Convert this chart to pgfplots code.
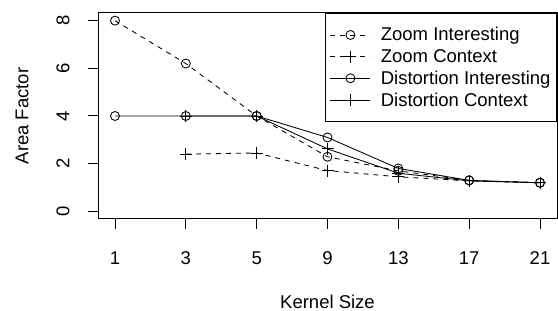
\documentclass[border=0pt]{standalone}
\usepackage{fontspec}
\setmainfont{Liberation Sans}
\usepackage{pgfplots}
\pgfplotsset{compat=1.18}
\begin{document}
\begin{tikzpicture}
\begin{axis}[name=ax, at={(0,0)}, anchor=south west,
  scale only axis, width=459pt, height=206pt,
  xmin=-0.24, xmax=6.24, ymin=-0.32, ymax=8.32,
  xtick={0,1,2,3,4,5,6}, xticklabels={1,3,5,9,13,17,21},
  ytick={0,2,4,6,8},
  xtick pos=lower, ytick pos=left,
  tick align=outside, major tick length=10pt,
  axis line style={line width=1pt},
  every tick/.style={black, line width=1pt},
  font=\fontsize{18.5}{22}\selectfont,
  /pgf/number format/assume math mode=true,
  xticklabel style={anchor=center, yshift=-29pt},
  yticklabel style={xshift=-25pt, rotate=90, anchor=center},
  xlabel={Kernel Size}, ylabel={Area Factor},
  x label style={at={(axis description cs:0.5,-0.403)}, anchor=center},
  y label style={at={(axis description cs:-0.1656,0.5)}, anchor=center},
  legend image code/.code={\draw[mark repeat=2,mark phase=2,#1] plot coordinates {(0pt,0pt) (20pt,0pt) (40pt,0pt)};},
  legend style={at={(1,1)}, anchor=north east, draw=black, line width=1pt,
    font=\fontsize{18.5}{22}\selectfont, row sep=3pt,
    inner xsep=4pt, inner ysep=12pt,
    /tikz/every odd column/.append style={column sep=8pt}},
  legend cell align=left,
]
\addplot[black, line width=0.85pt, dash pattern=on 5pt off 5pt, mark=o, mark size=4.5pt, mark options={solid, line width=0.85pt}]
  coordinates {(0,8) (1,6.2) (2,4) (3,2.29) (4,1.7) (5,1.3) (6,1.2)};
\addlegendentry{Zoom Interesting}
\addplot[black, line width=0.85pt, dash pattern=on 5pt off 5pt, mark=+, mark size=6pt, mark options={solid, line width=0.85pt}]
  coordinates {(1,2.4) (2,2.45) (3,1.71) (4,1.45) (5,1.28) (6,1.2)};
\addlegendentry{Zoom Context}
\addplot[black, line width=0.85pt, mark=o, mark size=4.5pt, mark options={solid, line width=0.85pt}]
  coordinates {(0,4) (1,4) (2,4) (3,3.1) (4,1.8) (5,1.3) (6,1.2)};
\addlegendentry{Distortion Interesting}
\addplot[black, line width=0.85pt, mark=+, mark size=6pt, mark options={solid, line width=0.85pt}]
  coordinates {(1,4) (2,4) (3,2.62) (4,1.6) (5,1.28) (6,1.2)};
\addlegendentry{Distortion Context}
\end{axis}
\pgfresetboundingbox
\path[use as bounding box] ([xshift=-98pt,yshift=-92pt]ax.south west) rectangle ([xshift=1pt,yshift=13pt]ax.north east);
\end{tikzpicture}
\end{document}
